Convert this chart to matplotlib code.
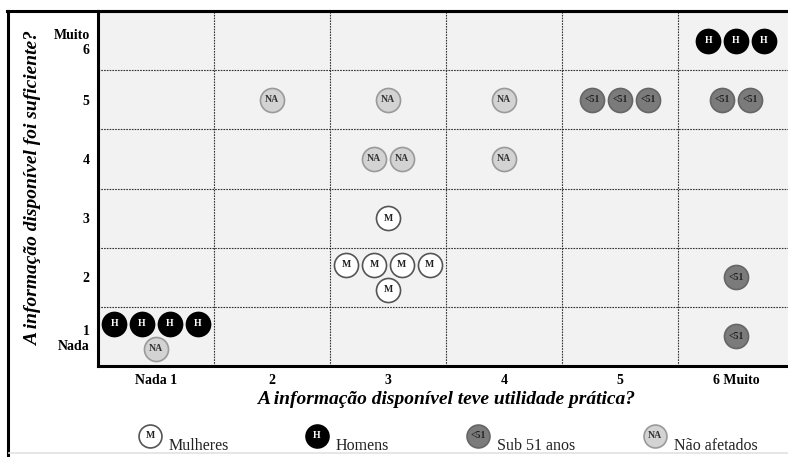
import matplotlib.pyplot as plt

# Data: cell (utilidade, suficiente) -> list of (grupo, quantidade)
niveis = [1, 2, 3, 4, 5, 6]
x_labels = ['Nada 1', '2', '3', '4', '5', '6 Muito']
y_labels = ['1\nNada', '2', '3', '4', '5', 'Muito\n6']

mulheres = [(3, 3, 1), (3, 2, 5)]
homens = [(6, 6, 3), (1, 1, 4)]
sub51 = [(5, 5, 3), (6, 5, 2), (6, 2, 1), (6, 1, 1)]
nao_afetados = [(2, 5, 1), (3, 5, 1), (4, 5, 1), (3, 4, 2), (4, 4, 1), (1, 1, 1)]

grupos = ['M', 'H', '<51', 'NA']
nomes = ['Mulheres', 'Homens', 'Sub 51 anos', 'Não afetados']
dados = [mulheres, homens, sub51, nao_afetados]
face = {'M': 'white', 'H': 'black', '<51': '#7b7b7b', 'NA': '#d3d3d3'}
edge = {'M': '#555555', 'H': 'black', '<51': '#666666', 'NA': '#9a9a9a'}
tcol = {'M': '#222222', 'H': 'white', '<51': '#222222', 'NA': '#333333'}

plt.rcParams['font.family'] = ['Liberation Serif', 'DejaVu Serif']

fig = plt.figure(figsize=(7.88, 4.57), dpi=100)
W, H = 788.0, 457.0
ax = fig.add_axes([98 / W, (H - 366) / H, 696 / W, 355 / H])
ax.set_facecolor('#f2f2f2')

# build rows inside each cell
celulas = {}
for g, lista in zip(grupos, dados):
    for cx, cy, n in lista:
        celulas.setdefault((cx, cy), []).append((g, n))

pts = {g: [] for g in grupos}
dx, dy = 0.24, 0.42
for (cx, cy), itens in celulas.items():
    linhas = []
    for g, n in itens:
        while n > 0:
            k = min(n, 4)
            linhas.append((g, k))
            n -= k
    nl = len(linhas)
    for i, (g, k) in enumerate(linhas):
        yy = cy + ((nl - 1) / 2 - i) * dy
        for j in range(k):
            xx = cx + (j - (k - 1) / 2) * dx
            pts[g].append((xx, yy))

for g in grupos:
    if not pts[g]:
        continue
    xs = [p[0] for p in pts[g]]
    ys = [p[1] for p in pts[g]]
    ax.scatter(xs, ys, s=300, c=face[g], edgecolors=edge[g], linewidths=1.2, zorder=3)
    for xx, yy in pts[g]:
        ax.text(xx, yy, g, ha='center', va='center', fontsize=7, fontweight='bold',
                color=tcol[g], zorder=4)

ax.set_xlim(0.5, 6.5)
ax.set_ylim(0.5, 6.5)
ax.set_xticks(niveis)
ax.set_xticklabels(x_labels, fontsize=10, fontweight='bold')
ax.set_yticks(niveis)
ax.set_yticklabels(y_labels, fontsize=10, fontweight='bold', ha='right', multialignment='right')
ax.tick_params(length=0, pad=6)
for b in [1.5, 2.5, 3.5, 4.5, 5.5]:
    ax.axvline(b, color='#333333', lw=0.8, ls=(0, (1.5, 1)), zorder=1)
    ax.axhline(b, color='#333333', lw=0.8, ls=(0, (1.5, 1)), zorder=1)
for s in ['left', 'bottom', 'top']:
    ax.spines[s].set_linewidth(2.2)
ax.spines['right'].set_visible(False)

ax.set_xlabel('A informação disponível teve utilidade prática?', fontsize=14,
              fontweight='bold', fontstyle='italic', labelpad=3)
ax.set_ylabel('A informação disponível foi suficiente?', fontsize=14,
              fontweight='bold', fontstyle='italic', labelpad=8)

# outer frame: left and top lines, faint bottom line
fig.add_artist(plt.Line2D([7.5 / W, 7.5 / W], [0, (H - 10.5) / H], transform=fig.transFigure,
                          color='black', lw=2.2))
fig.add_artist(plt.Line2D([6.5 / W, 1], [(H - 10.5) / H, (H - 10.5) / H],
                          transform=fig.transFigure, color='black', lw=2.2))
fig.add_artist(plt.Line2D([8.5 / W, 1], [4 / H, 4 / H], transform=fig.transFigure,
                          color='#e2e2e2', lw=1.2))

# legend
leg_x = [150, 317, 478, 655]
for g, nome, lx in zip(grupos, nomes, leg_x):
    fx, fy = lx / W, (H - 436) / H
    fig.add_artist(plt.Line2D([fx], [fy], marker='o', markersize=16.5, markerfacecolor=face[g],
                              markeredgecolor=edge[g], markeredgewidth=1.2,
                              transform=fig.transFigure))
    fig.text(fx, fy, g, ha='center', va='center', fontsize=7, fontweight='bold', color=tcol[g])
    fig.text((lx + 19) / W, (H - 450) / H, nome, ha='left', va='baseline', fontsize=11.5,
             color='#222222')

fig.savefig('out.png', dpi=100)
